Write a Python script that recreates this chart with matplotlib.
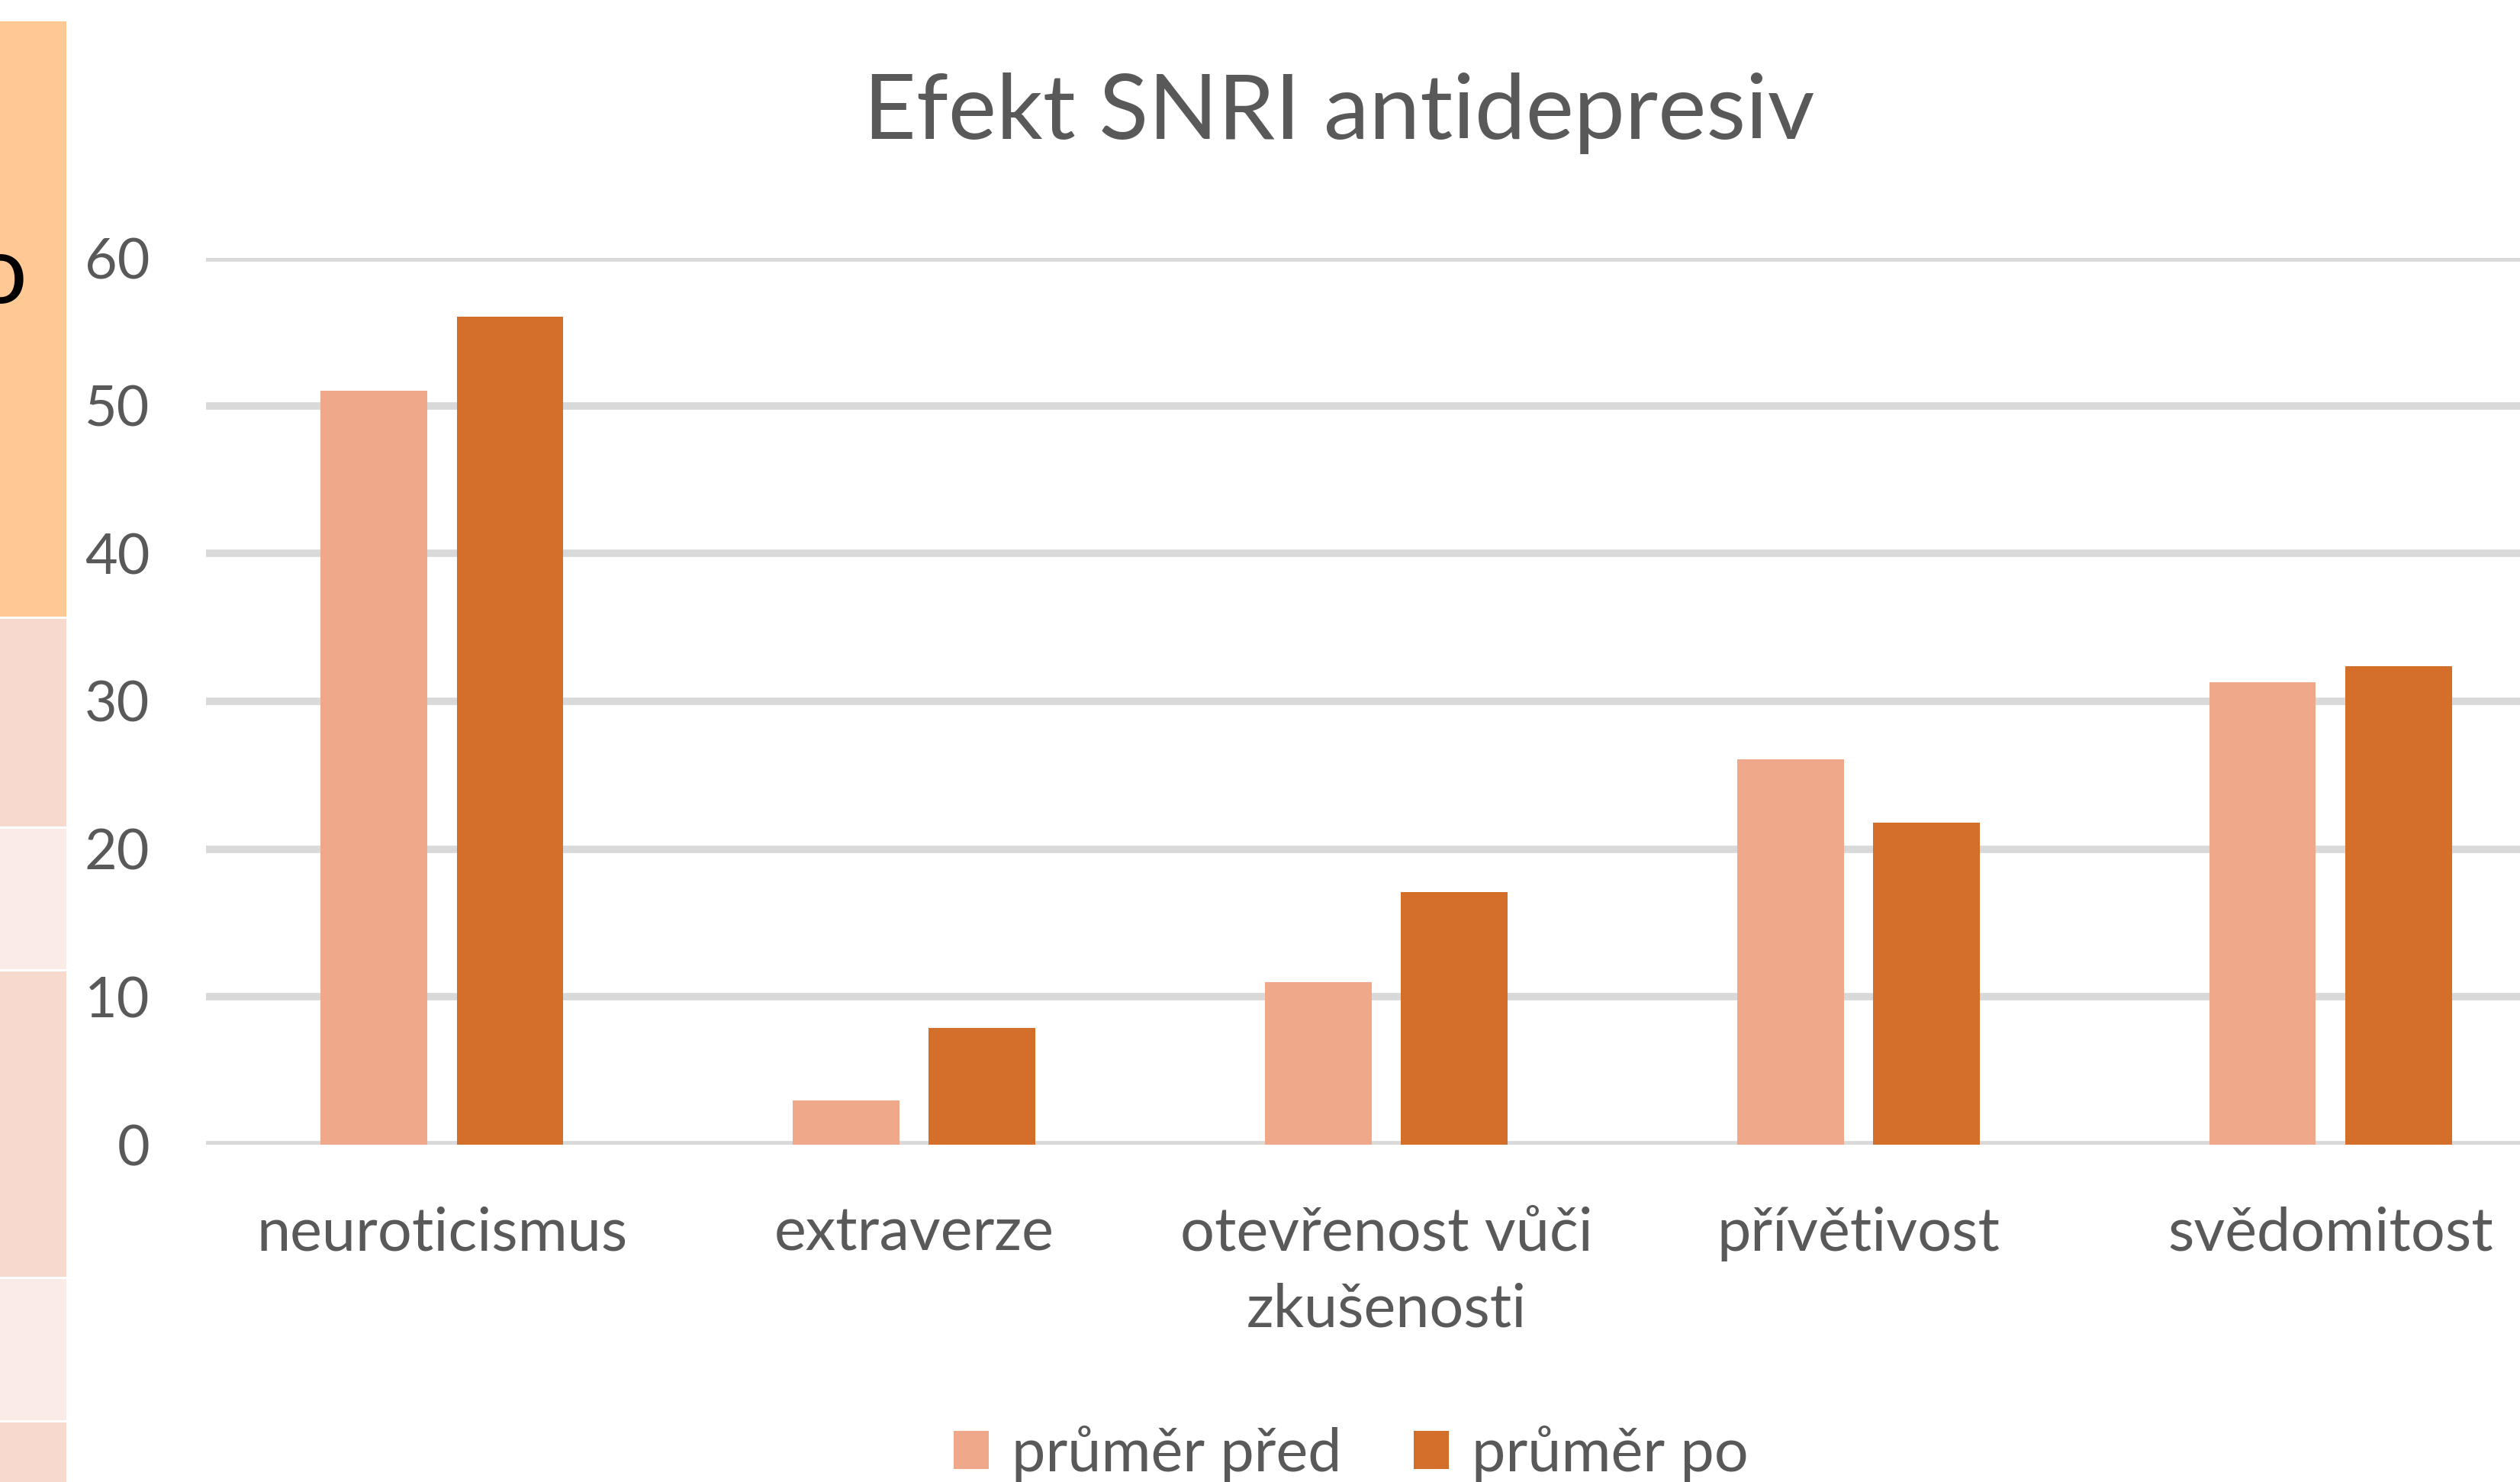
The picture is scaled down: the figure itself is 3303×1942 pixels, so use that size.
import matplotlib.pyplot as plt
import numpy as np
from matplotlib.patches import Rectangle

categories = ["neuroticismus", "extraverze", "otevřenost vůči\nzkušenosti", "přívětivost", "svědomitost"]
prumer_pred = [51.0, 3.0, 11.0, 26.1, 31.3]
prumer_po = [56.0, 7.9, 17.1, 21.8, 32.4]
series_names = ["průměr před", "průměr po"]
y_ticks = [0, 10, 20, 30, 40, 50, 60]

c_pred = "#F0A88A"
c_po = "#D36F2B"
grey = "#595959"

plt.rcParams["font.family"] = ["Lato", "DejaVu Sans"]

W, H = 3303, 1942
fig = plt.figure(figsize=(W / 100, H / 100), dpi=100)

# spreadsheet cells peeking in on the left
cells = [(25, 808, "#FFC996"), (808, 1083, "#F8D9CE"), (1083, 1270, "#FAEBE6"),
         (1270, 1673, "#F8D9CE"), (1673, 1861, "#FAEBE6"), (1861, 1942, "#F8D9CE")]
for top, bot, col in cells:
    fig.add_artist(Rectangle((0, 1 - bot / H), 87 / W, (bot - top - 3) / H,
                             transform=fig.transFigure, color=col, lw=0))
fig.text(36 / W, 1 - 362 / H, "o", ha="right", va="center", fontsize=90, color="black")

# plot area
left, right = 270, 3364
bottom, top = 1500, 338
ax = fig.add_axes([left / W, 1 - bottom / H, (right - left) / W, (bottom - top) / H])

x = np.arange(len(categories))
w = 0.226
off = 0.144
ax.bar(x - off, prumer_pred, w, color=c_pred, label=series_names[0], zorder=3)
ax.bar(x + off, prumer_po, w, color=c_po, label=series_names[1], zorder=3)

ax.set_xlim(-0.5, len(categories) - 0.5)
ax.set_ylim(0, 60)
ax.set_yticks(y_ticks)
ax.set_xticks(x)
ax.set_xticklabels(categories, linespacing=1.48)
ax.yaxis.grid(True, color="#D9D9D9", lw=7, zorder=0)
ax.set_axisbelow(True)
for s in ax.spines.values():
    s.set_visible(False)
ax.tick_params(axis="both", length=0, colors=grey)
ax.tick_params(axis="y", pad=53, labelsize=53)
ax.tick_params(axis="x", pad=58, labelsize=57)
for lbl in ax.get_yticklabels():
    lbl.set_clip_on(False)

fig.text(1755 / W, 1 - 148 / H, "Efekt SNRI antidepresiv", ha="center", va="center",
         fontsize=86, color=grey)

fig.legend(loc="center", bbox_to_anchor=(1771 / W, 1 - 1905 / H), ncol=2, frameon=False,
           fontsize=57, labelcolor=grey, handlelength=0.58, handleheight=0.58,
           handletextpad=0.38, columnspacing=1.2)

fig.savefig("out.png", dpi=100)
